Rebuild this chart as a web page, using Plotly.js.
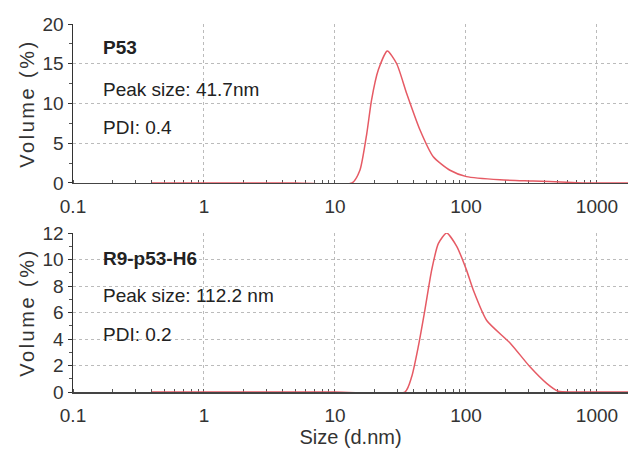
<!DOCTYPE html>
<html><head><meta charset="utf-8">
<script src="https://cdn.plot.ly/plotly-3.0.1.min.js"></script>
<style>body{margin:0;background:#fff}#c{width:628px;height:450px}
.ytitle,.y2title{letter-spacing:2.5px}</style>
</head><body><div id="c"></div><script>
// Top panel: P53
const sizeP53 = [0.4, 5, 13.5, 15.5, 17.5, 19, 21.4, 25.1, 29.6, 35.2, 44.5, 56.3, 75.5, 101, 182, 325, 585, 800, 1740];
const volP53  = [0,   0, 0,    1.6,  6.25, 10.4, 14.2, 16.6, 15.0, 11.3, 6.7, 3.3, 1.6, 0.8, 0.4, 0.25, 0.1, 0, 0];
// Bottom panel: R9-p53-H6
const sizeR9 = [0.4, 10, 34.2, 38.5, 43.2, 48.6, 54.7, 61.5, 71.2, 85, 101, 113.7, 144, 217, 308, 413, 507, 700, 1740];
const volR9  = [0,   0,  0,    1.15, 3.4,  6.2,  9.2,  11.2, 12.0, 11.0, 9.2, 7.7, 5.4, 3.7, 1.9, 0.65, 0.05, 0, 0];
const xTickVals = [0.1, 1, 10, 100, 1000];
const xTickText = ['0.1', '1', '10', '100', '1000'];
const labelsTop = ['<b>P53</b>', 'Peak size: 41.7nm', 'PDI: 0.4'];
const labelsBot = ['<b>R9-p53-H6</b>', 'Peak size: 112.2 nm', 'PDI: 0.2'];

const red = '#e65a64';
const fam = 'Liberation Sans, Arial, sans-serif';
const tickFont = {family: fam, size: 19, color: '#333'};
const titleFont = {family: fam, size: 20, color: '#333'};
const traces = [
  {x: sizeP53, y: volP53, xaxis: 'x', yaxis: 'y', mode: 'lines', line: {color: red, width: 1.5, shape: 'spline', smoothing: 0.6}},
  {x: sizeR9, y: volR9, xaxis: 'x2', yaxis: 'y2', mode: 'lines', line: {color: red, width: 1.5, shape: 'spline', smoothing: 0.6}}
];
function xax(anchor, title) {
  const a = {type: 'log', range: [-1, 3.237], anchor: anchor, tickvals: xTickVals, ticktext: xTickText,
    showgrid: true, gridcolor: '#bbbbbb', griddash: 'dot', zeroline: false, showline: true, linecolor: '#444', linewidth: 1.5,
    layer: 'below traces', ticks: '', tickfont: tickFont, ticklabelstandoff: 6,
    minor: {dtick: 'D1', ticks: 'inside', ticklen: 3, tickcolor: '#555', showgrid: false}};
  if (title) a.title = {text: title, font: titleFont, standoff: 0};
  return a;
}
function yax(anchor, domain, range, dtick, mdtick) {
  return {domain: domain, range: range, anchor: anchor, dtick: dtick, showline: true, linecolor: '#333', linewidth: 1.5,
    ticks: 'outside', ticklen: 4, tickcolor: '#333', tickfont: tickFont, showgrid: true, gridcolor: '#bbbbbb', griddash: 'dot',
    zeroline: false, minor: {dtick: mdtick, ticks: 'outside', ticklen: 3, tickcolor: '#555', showgrid: false},
    title: {text: 'Volume (%)', font: titleFont, standoff: 2}};
}
function anns(lbls, xr, yr, ys) {
  return lbls.map((t, i) => ({text: t, xref: xr + ' domain', yref: yr + ' domain', x: 0.05, y: ys[i],
    xanchor: 'left', yanchor: 'middle', showarrow: false, font: {family: fam, size: 19, color: '#222'}}));
}
const layout = {
  width: 628, height: 450, margin: {l: 73, r: 0, t: 24, b: 58},
  paper_bgcolor: '#fff', plot_bgcolor: '#fff', showlegend: false,
  xaxis: xax('y', null), yaxis: yax('x', [0.568, 1], [0, 20], 5, 2.5),
  xaxis2: xax('y2', 'Size (d.nm)'), yaxis2: yax('x2', [0, 0.432], [0, 12], 2, 1),
  annotations: [].concat(anns(labelsTop, 'x', 'y', [0.852, 0.585, 0.349]), anns(labelsBot, 'x2', 'y2', [0.84, 0.607, 0.362]))
};
Plotly.newPlot('c', traces, layout, {staticPlot: true});
</script></body></html>
